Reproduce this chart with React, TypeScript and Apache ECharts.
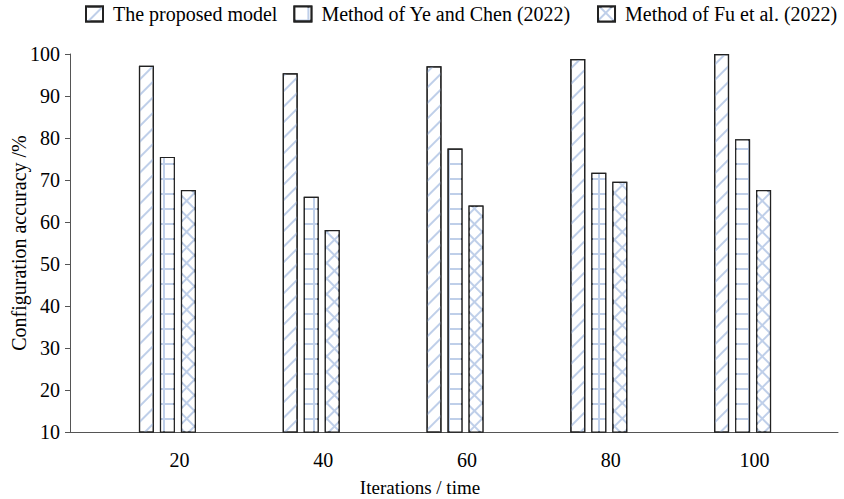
import React, { useEffect, useRef } from "react";
import * as echarts from "echarts";

const iterations = [20, 40, 60, 80, 100];
const seriesNames = [
  "The proposed model",
  "Method of Ye and Chen (2022)",
  "Method of Fu et al. (2022)",
];
const proposedModel = [97.2, 95.4, 97.1, 98.8, 100];
const yeChen2022 = [75.5, 66.0, 77.5, 71.7, 79.7];
const fu2022 = [67.6, 58.1, 63.9, 69.6, 67.6];

const FONT = "Liberation Serif";
const PATTERN_BLUE = "#bfcfe9";

export default function App() {
  const ref = useRef<HTMLDivElement>(null);

  useEffect(() => {
    if (!ref.current) return;
    const chart = echarts.init(ref.current, undefined, { renderer: "svg" });

    const toPairs = (vals: number[]) => iterations.map((x, i) => [x, vals[i]]);

    const decals: any[] = [
      {
        symbol: "rect",
        symbolSize: 1,
        color: PATTERN_BLUE,
        dashArrayX: [1, 0],
        dashArrayY: [2, 9],
        rotation: -Math.PI / 4,
      },
      {
        symbol: "rect",
        symbolSize: 1,
        color: "#ffffff",
        dashArrayX: [13, 2],
        dashArrayY: [13, 2],
        rotation: 0,
      },
      {
        symbol: "rect",
        symbolSize: 1,
        color: "#ffffff",
        dashArrayX: [9, 2],
        dashArrayY: [9, 2],
        rotation: Math.PI / 4,
      },
    ];
    const fills = ["#ffffff", PATTERN_BLUE, PATTERN_BLUE];

    const dataSets = [proposedModel, yeChen2022, fu2022];

    chart.setOption({
      animation: false,
      backgroundColor: "#ffffff",
      textStyle: { fontFamily: FONT },
      legend: {
        top: 4,
        left: 85,
        width: 800,
        padding: 0,
        itemWidth: 17,
        itemHeight: 15,
        itemGap: 16,
        icon: "rect",
        textStyle: {
          fontFamily: FONT,
          fontSize: 20,
          color: "#000",
          padding: [0, 0, 0, 5],
        },
        formatter: (name: string) =>
          name === seriesNames[1] ? name + "\u00a0\u00a0" : name,
        data: seriesNames,
      },
      grid: {
        left: 70,
        right: 6,
        top: 54,
        bottom: 67,
        containLabel: false,
        outerBoundsMode: "none",
      },
      xAxis: {
        type: "value",
        min: 6.45,
        max: 113.27,
        splitNumber: 5,
        name: "Iterations / time",
        nameLocation: "middle",
        nameGap: 46,
        nameMoveOverlap: false,
        nameTextStyle: {
          fontFamily: FONT,
          fontSize: 19,
          color: "#000",
          padding: [0, 68, 0, 0],
        },
        axisLine: { show: true, lineStyle: { color: "#555", width: 1 } },
        axisTick: { show: false },
        splitLine: { show: false },
        axisLabel: {
          fontFamily: FONT,
          fontSize: 20,
          color: "#000",
          margin: 18,
          padding: [0, 0, 0, 24],
          showMinLabel: false,
          showMaxLabel: false,
          formatter: (v: number) =>
            iterations.indexOf(Math.round(v)) >= 0 && Math.abs(v - Math.round(v)) < 1e-6
              ? String(Math.round(v))
              : "",
        },
      },
      yAxis: {
        type: "value",
        min: 10,
        max: 100,
        interval: 10,
        name: "Configuration accuracy /%",
        nameLocation: "middle",
        nameGap: 41,
        nameMoveOverlap: false,
        nameTextStyle: { fontFamily: FONT, fontSize: 20, color: "#000" },
        axisLine: { show: true, lineStyle: { color: "#555", width: 1 } },
        axisTick: { show: true, inside: false, length: 5, lineStyle: { color: "#555" } },
        splitLine: { show: false },
        axisLabel: { fontFamily: FONT, fontSize: 20, color: "#000", margin: 10 },
      },
      series: dataSets.map((vals, i) => ({
        name: seriesNames[i],
        type: "bar",
        barWidth: 15,
        barGap: "40%",
        data: toPairs(vals),
        itemStyle: {
          color: fills[i],
          borderColor: "#222222",
          borderWidth: 1.2,
          decal: decals[i],
        },
      })),
    });

    return () => chart.dispose();
  }, []);

  return (
    <div
      ref={ref}
      style={{ position: "absolute", left: 0, top: 0, width: 844, height: 499 }}
    />
  );
}
